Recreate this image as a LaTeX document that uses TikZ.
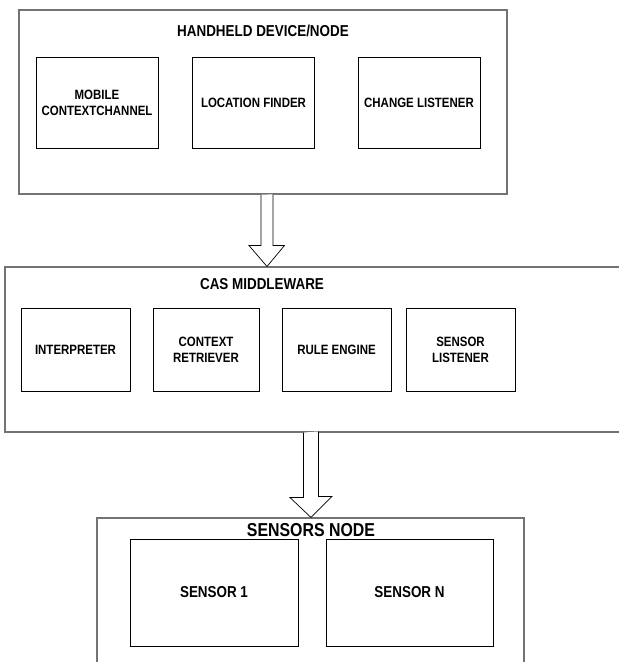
\documentclass[tikz,border=0pt]{standalone}
\usepackage{fontspec}
\setmainfont{Liberation Sans}
\newfontfamily\narrowsans[FakeStretch=0.85]{Liberation Sans}
\usetikzlibrary{calc}
\begin{document}
\begin{tikzpicture}[x=1pt, y=-1pt,
    outer/.style={draw=black!55, line width=1.1pt, rectangle, inner sep=0pt},
    box/.style={draw=black, line width=0.8pt, rectangle, inner sep=0pt, align=center,
                font=\narrowsans\fontsize{13.5}{16}\selectfont\bfseries},
    ttl/.style={inner sep=0pt, font=\narrowsans\fontsize{15.8}{18}\selectfont\bfseries},
    hollow/.style={draw=black, line width=0.7pt, fill=white, line join=miter}]
    \useasboundingbox (0, 0) rectangle (619, 662);
    \clip (0, 0) rectangle (619, 662);

    % handheld side
    \node[outer, minimum width=488, minimum height=184] (hand) at (263, 102) {};
    \node[ttl] (handT) at (263, 31) {HANDHELD DEVICE/NODE};
    \node[box, minimum width=122, minimum height=91] (mob) at (97, 102.5) {MOBILE\\CONTEXTCHANNEL};
    \node[box, minimum width=122, minimum height=91] (loc) at (253.5, 102.5) {LOCATION FINDER};
    \node[box, minimum width=122, minimum height=91] (chg) at (419, 102.5) {CHANGE LISTENER};

    % middleware
    \node[outer, minimum width=625, minimum height=165] (cas) at (317.5, 349.5) {};
    \node[ttl] (casT) at (262, 284) {CAS MIDDLEWARE};
    \node[box, minimum width=109, minimum height=83] (intp) at (75.5, 349.5) {INTERPRETER};
    \node[box, minimum width=106, minimum height=83] (ret) at (206, 349.5) {CONTEXT\\RETRIEVER};
    \node[box, minimum width=109, minimum height=83] (rule) at (336.5, 349.5) {RULE ENGINE};
    \node[box, minimum width=109, minimum height=83] (slis) at (460.5, 349.5) {SENSOR\\LISTENER};

    % sensors
    \node[outer, minimum width=427, minimum height=182] (sens) at (310.5, 609) {};
    \node[ttl, font=\narrowsans\fontsize{18.7}{21}\selectfont\bfseries] (sensT) at (311, 530) {SENSORS NODE};
    \node[box, minimum width=168, minimum height=107, font=\narrowsans\fontsize{15.8}{18}\selectfont\bfseries] (s1) at (214, 592.5) {SENSOR 1};
    \node[box, minimum width=167, minimum height=107, font=\narrowsans\fontsize{15.8}{18}\selectfont\bfseries] (sN) at (409.5, 592.5) {SENSOR N};

    % block arrows
    \coordinate (arrA) at (267, 0);
    \coordinate (arrB) at (311, 0);
    \draw[hollow] ($(arrA |- hand.south)+(-6,0)$) -- ++(0, 51) -- ++(-12, 0)
        -- (arrA |- cas.north) -- ++(17.5, -21) -- ++(-11.5, 0) -- ++(0, -51);
    \draw[hollow] ($(arrB |- cas.south)+(-7.5,0)$) -- ++(0, 65) -- ++(-13.5, 0)
        -- (arrB |- sens.north) -- ++(21, -21) -- ++(-13.5, 0) -- ++(0, -65);
\end{tikzpicture}
\end{document}
